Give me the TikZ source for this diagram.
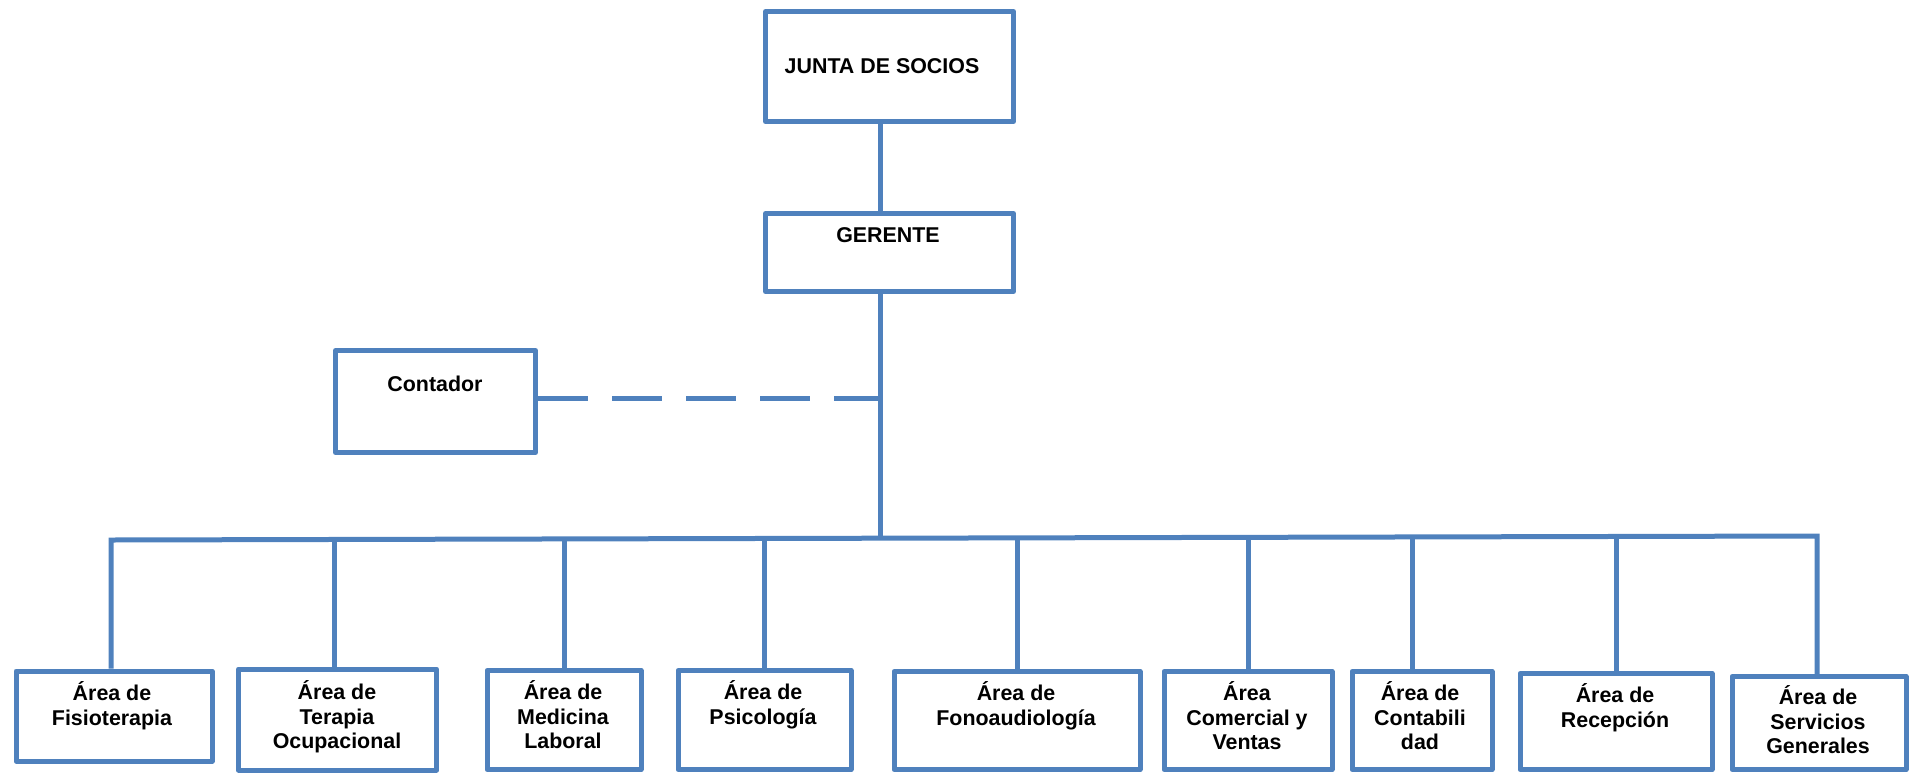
\documentclass[tikz,border=0pt]{standalone}
\usepackage{fontspec}
\setmainfont{Liberation Sans}
\definecolor{boxblue}{RGB}{79,129,189}
\begin{document}
\begin{tikzpicture}[x=0.5pt,y=-0.5pt,
  bx/.style n args={2}{draw=boxblue, line width=2.5pt, minimum width={(#1-5)*0.5pt}, minimum height={(#2-5)*0.5pt}, inner sep=0pt, anchor=north west, line join=round},
  lab/.style={font=\bfseries\fontsize{10.7}{12.4}\selectfont, align=center, inner sep=0pt, anchor=north},
  conn/.style={draw=boxblue, line width=2.5pt},
  dashconn/.style={conn, dash pattern=on 25pt off 12pt}
]
\useasboundingbox (0,0) rectangle (1912,772);

% boxes
\node[bx={253}{115}] (junta) at (763,9) {};
\node[bx={253}{83}] (gerente) at (763,211) {};
\node[bx={205}{107}] (contador) at (333,348) {};
\node[bx={201}{95}] (fisio) at (13.5,668.5) {};
\node[bx={203}{106}] (terapia) at (236,666.5) {};
\node[bx={159}{104}] (medicina) at (484.5,668) {};
\node[bx={178}{104}] (psico) at (675.5,668) {};
\node[bx={251}{103}] (fono) at (891.5,669) {};
\node[bx={173}{103}] (comercial) at (1161.5,669) {};
\node[bx={145}{103}] (contab) at (1349.5,669) {};
\node[bx={197}{101}] (recep) at (1517.5,671) {};
\node[bx={179}{98}] (serv) at (1729.5,674) {};

% texts
\node[lab] (junta-t) at (882,58) {JUNTA DE SOCIOS};
\node[lab] (gerente-t) at (888,227) {GERENTE};
\node[lab] (contador-t) at (435,376) {Contador};
\node[lab] (fisio-t) at (112,681) {Área de\\Fisioterapia};
\node[lab] (terapia-t) at (337,680) {Área de\\Terapia\\Ocupacional};
\node[lab] (medicina-t) at (563,680) {Área de\\Medicina\\Laboral};
\node[lab] (psico-t) at (763,680) {Área de\\Psicología};
\node[lab] (fono-t) at (1016,681) {Área de\\Fonoaudiología};
\node[lab] (comercial-t) at (1247,681) {Área\\Comercial y\\Ventas};
\node[lab] (contab-t) at (1420,681) {Área de\\Contabili\\dad};
\node[lab] (recep-t) at (1615,683) {Área de\\Recepción};
\node[lab] (serv-t) at (1818,685) {Área de\\Servicios\\Generales};

% connectors
\coordinate (trunk) at (880,538);
\coordinate (bus) at (0,538);
\coordinate (dashend) at (880,398);
\coordinate (busL) at (111,540);
\coordinate (busR) at (1817,536);

\draw[conn] (junta.south -| trunk) -- (gerente.north -| trunk);
\draw[conn] (gerente.south -| trunk) -- (trunk);
\draw[dashconn] (contador.east |- dashend) -- (dashend);
\draw[conn, line join=miter] (fisio.north -| busL) -- (busL) -- (busR) -- (serv.north -| busR);
\foreach \b in {medicina,psico,fono,comercial,recep}
  \draw[conn] (\b.north) -- (\b.north |- bus);
\draw[conn] ([xshift=-1.75pt]terapia.north) -- ([xshift=-1.75pt]terapia.north |- bus);
\draw[conn] ([xshift=-5pt]contab.north) -- ([xshift=-5pt]contab.north |- bus);
\end{tikzpicture}
\end{document}
